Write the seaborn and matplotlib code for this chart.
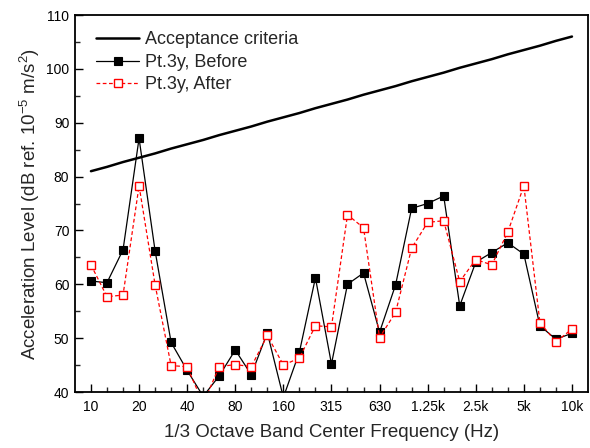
import matplotlib
matplotlib.use("Agg")
import matplotlib.pyplot as plt
import seaborn as sns
import numpy as np
import pandas as pd
from matplotlib.ticker import FixedLocator, MultipleLocator

bands = ["10", "12.5", "16", "20", "25", "31.5", "40", "50", "63", "80", "100",
         "125", "160", "200", "250", "315", "400", "500", "630", "800", "1k",
         "1.25k", "1.6k", "2k", "2.5k", "3.15k", "4k", "5k", "6.3k", "8k", "10k"]
tick_labels = ["10", "20", "40", "80", "160", "315", "630", "1.25k", "2.5k", "5k", "10k"]

criteria = [81.0, 81.8, 82.7, 83.5, 84.3, 85.2, 86.0, 86.8, 87.7, 88.5, 89.3,
            90.2, 91.0, 91.8, 92.7, 93.5, 94.3, 95.2, 96.0, 96.8, 97.7,
            98.5, 99.3, 100.2, 101.0, 101.8, 102.7, 103.5, 104.3, 105.2, 106.0]
before = [60.6, 60.3, 66.4, 87.1, 66.2, 49.2, 44.0, 39.2, 43.0, 47.8, 43.2,
          51.0, 39.0, 47.4, 61.2, 45.2, 60.0, 62.1, 51.1, 59.9, 74.1,
          75.0, 76.4, 56.0, 64.1, 65.9, 67.7, 65.6, 52.3, 49.8, 50.9]
after = [63.6, 57.7, 58.0, 78.3, 59.9, 44.9, 44.7, 37.8, 44.7, 45.1, 44.7,
         50.5, 45.0, 46.3, 52.3, 52.1, 72.9, 70.5, 50.1, 54.8, 66.7,
         71.5, 71.8, 60.5, 64.6, 63.6, 69.7, 78.3, 52.9, 49.3, 51.7]

pos = np.arange(len(bands))
df = pd.DataFrame({"pos": pos, "criteria": criteria, "before": before, "after": after})

sns.set_theme(style="white")
plt.rcParams["font.family"] = ["Liberation Sans", "DejaVu Sans"]
plt.rcParams["mathtext.fontset"] = "custom"
plt.rcParams["mathtext.rm"] = "Liberation Sans"
plt.rcParams["mathtext.it"] = "Liberation Sans"

fig = plt.figure(figsize=(5.9, 4.48), dpi=100)
ax = fig.add_axes([0.127, 0.125, 0.8696, 0.8415])

sns.lineplot(data=df, x="pos", y="criteria", ax=ax, color="black", linewidth=1.8,
             label="Acceptance criteria")
sns.lineplot(data=df, x="pos", y="before", ax=ax, color="black", linewidth=0.9,
             marker="s", markersize=5.6, markerfacecolor="black", markeredgecolor="black",
             markeredgewidth=0.8, label="Pt.3y, Before")
sns.lineplot(data=df, x="pos", y="after", ax=ax, color="red", linewidth=0.9,
             linestyle=(0, (3, 2)), marker="s", markersize=5.6, markerfacecolor="white",
             markeredgecolor="red", markeredgewidth=1.0, label="Pt.3y, After")

ax.set_xlim(-1, 31)
ax.set_ylim(40, 110)
ax.xaxis.set_major_locator(FixedLocator(pos[::3]))
ax.set_xticklabels(tick_labels)
ax.xaxis.set_minor_locator(FixedLocator(pos))
ax.yaxis.set_major_locator(MultipleLocator(10))
ax.yaxis.set_minor_locator(MultipleLocator(5))
ax.tick_params(axis="both", which="major", direction="in", length=6, width=1,
               labelsize=10, colors="black", pad=6)
ax.tick_params(axis="y", which="major", pad=4)
ax.tick_params(axis="both", which="minor", direction="in", length=3.5, width=1)
ax.tick_params(axis="x", which="both", bottom=True, top=False)
ax.tick_params(axis="y", which="both", left=True, right=False)

for s in ax.spines.values():
    s.set_color("black")
    s.set_linewidth(1.3)

ax.set_xlabel("1/3 Octave Band Center Frequency (Hz)", fontsize=13.5, labelpad=7)
ax.set_ylabel(r"Acceleration Level (dB ref. 10$^{-5}$ m/s$^{2}$)", fontsize=13.5, labelpad=3)

leg = ax.legend(loc="upper left", frameon=False, fontsize=13, handlelength=2.4,
                handletextpad=0.3, labelspacing=0.3, borderaxespad=0.2,
                bbox_to_anchor=(0.02, 0.985))

fig.savefig("out.png", dpi=100)
